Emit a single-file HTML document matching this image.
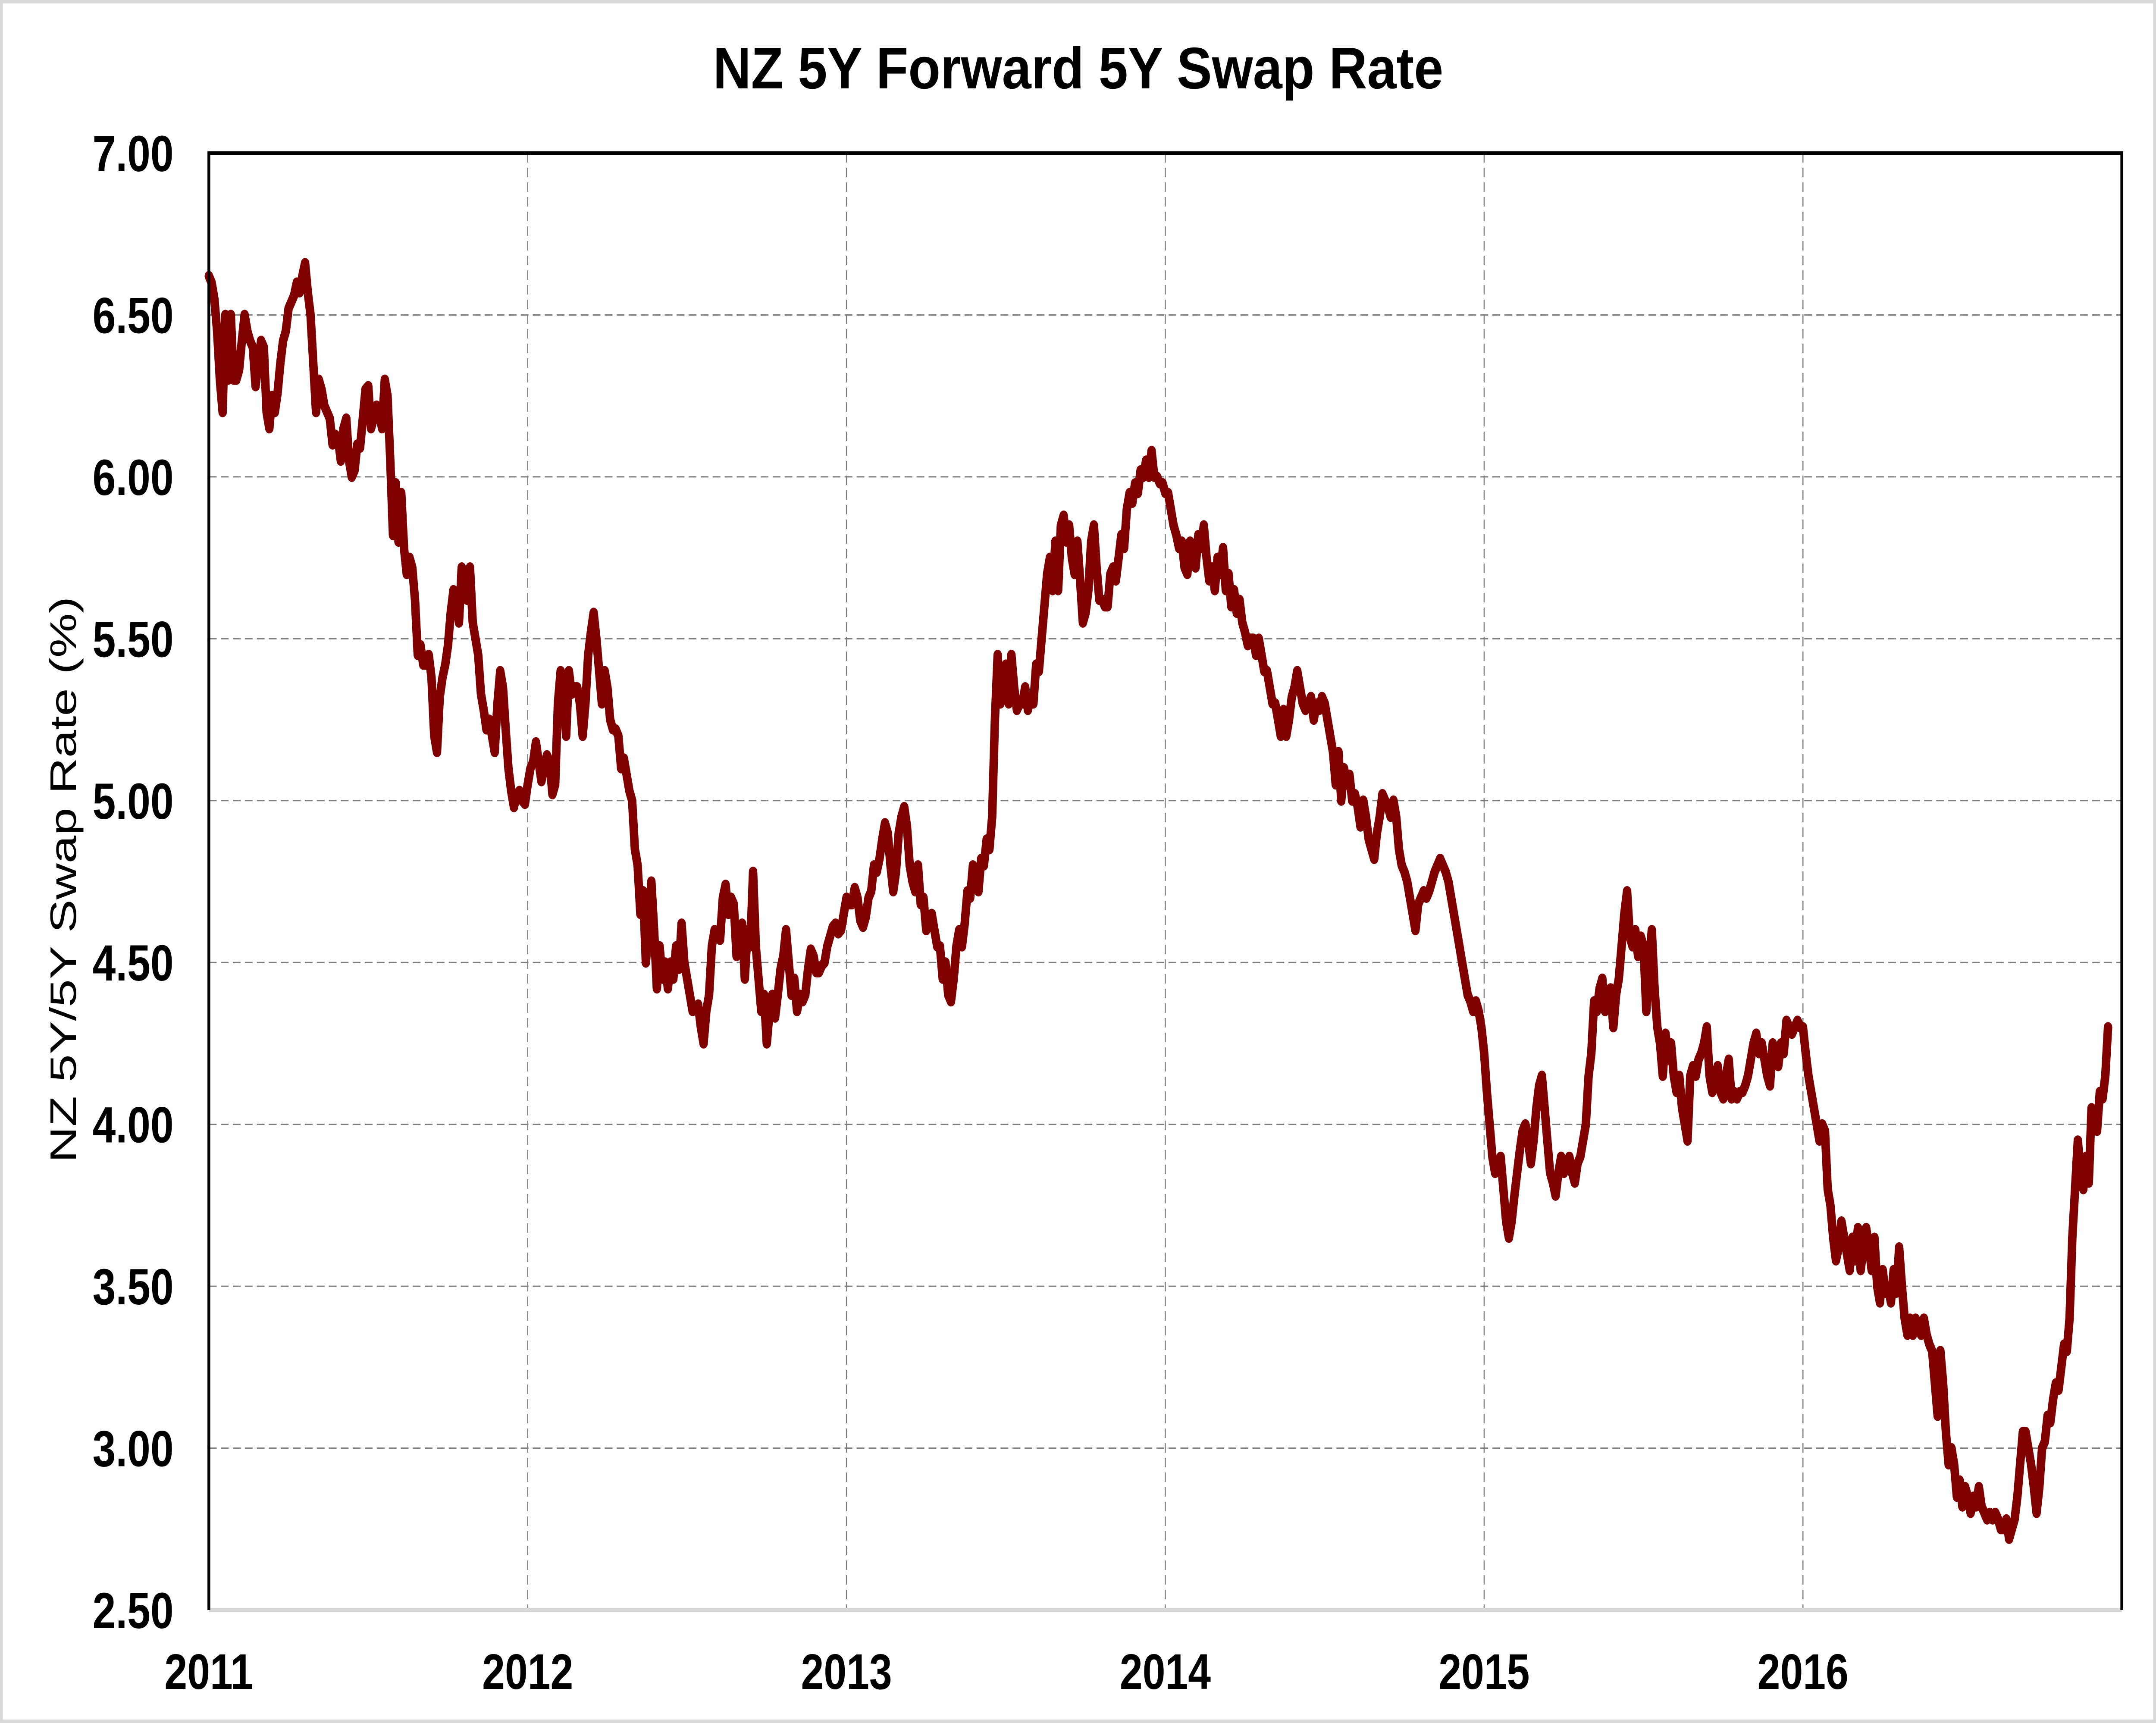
<!DOCTYPE html>
<html>
<head>
<meta charset="utf-8">
<style>
html,body{margin:0;padding:0;background:#fff;overflow:hidden;width:100%;height:100%;}
svg{display:block;width:100vw;height:100vh;}
text{font-family:"Liberation Sans",Arial,sans-serif;}
</style>
</head>
<body>
<svg id="chart" viewBox="0 0 6111 3996" preserveAspectRatio="none" xmlns="http://www.w3.org/2000/svg">
  <rect x="4" y="4" width="6103" height="3988" fill="#fff" stroke="#d9d9d9" stroke-width="8"/>
  <text x="3056" y="205" text-anchor="middle" font-size="136" font-weight="bold" textLength="2070" lengthAdjust="spacingAndGlyphs">NZ 5Y Forward 5Y Swap Rate</text>
  <text transform="translate(215,2040) rotate(-90)" text-anchor="middle" font-size="104" textLength="1313" lengthAdjust="spacingAndGlyphs">NZ 5Y/5Y Swap Rate (%)</text>
  <g id="grid"></g>
  <g id="yticks"></g>
  <g id="xticks"></g>
  <g id="series"></g>
  <g id="frame"></g>
</svg>
<script>
// ---- chart data ----
const yTickValues = [2.5, 3.0, 3.5, 4.0, 4.5, 5.0, 5.5, 6.0, 6.5, 7.0];
const yTickLabels = ["2.50","3.00","3.50","4.00","4.50","5.00","5.50","6.00","6.50","7.00"];
const xTickYears = [2011, 2012, 2013, 2014, 2015, 2016];
const xTickLabels = ["2011","2012","2013","2014","2015","2016"];
const startYear = 2011;
const obsPerYear = 116;
const rateValues = [
6.62,6.60,6.55,6.45,6.30,6.20,6.50,6.30,6.50,6.30,6.30,6.33,6.42,6.50,6.45,6.42,6.40,6.28,6.35,6.42,6.40,6.20,6.15,6.25,6.20,6.26,6.35,6.42,6.45,6.52,6.54,6.56,6.60,6.57,6.62,6.66,6.57,6.50,6.35,6.20,6.30,6.27,6.22,6.20,6.18,6.10,6.13,6.12,6.05,6.15,6.18,6.05,6.00,6.02,6.10,6.09,6.18,6.27,6.28,6.15,6.18,6.22,6.20,6.15,6.30,6.25,
6.05,5.82,5.98,5.80,5.95,5.78,5.70,5.75,5.72,5.62,5.45,5.48,5.42,5.42,5.45,5.38,5.20,5.15,5.32,5.38,5.42,5.48,5.58,5.65,5.62,5.55,5.72,5.65,5.62,5.72,5.55,5.50,5.45,5.33,5.28,5.22,5.25,5.20,5.15,5.30,5.40,5.35,5.22,5.10,5.03,4.98,5.02,5.03,5.00,4.99,5.05,5.10,5.12,5.18,5.12,5.06,5.10,5.14,5.12,5.02,5.05,5.30,5.40,5.35,5.20,5.40,5.33,5.35,5.35,5.30,5.20,5.30,5.45,5.52,5.58,5.50,5.40,5.30,5.40,5.35,5.25,5.22,5.22,5.20,5.10,5.13,5.08,5.03,5.00,4.85,4.80,4.65,
4.72,4.50,4.60,4.75,4.60,4.42,4.55,4.45,4.50,4.42,4.50,4.45,4.55,4.48,4.62,4.50,4.45,4.40,4.35,4.36,4.37,4.30,4.25,4.35,4.40,4.55,4.60,4.58,4.57,4.70,4.74,4.65,4.70,4.68,4.52,4.55,4.62,4.45,4.60,4.55,4.78,4.55,4.45,4.35,4.40,4.25,4.35,4.40,4.33,4.40,4.48,4.52,4.60,4.50,4.40,4.45,4.35,4.40,4.38,4.40,4.48,4.54,4.52,4.47,4.47,4.49,4.50,4.55,4.58,4.61,4.62,4.59,4.60,4.65,4.70,4.68,4.68,4.73,4.70,4.63,4.61,4.64,4.70,4.72,4.80,4.78,4.82,4.88,4.93,4.90,4.80,4.72,4.78,4.90,4.95,4.98,4.92,4.80,
4.75,4.72,4.80,4.68,4.70,4.60,4.62,4.65,4.60,4.55,4.55,4.45,4.50,4.40,4.38,4.45,4.55,4.60,4.55,4.62,4.72,4.70,4.80,4.75,4.72,4.82,4.80,4.88,4.85,4.95,5.25,5.45,5.30,5.35,5.42,5.30,5.45,5.35,5.28,5.30,5.30,5.35,5.28,5.32,5.30,5.42,5.40,5.50,5.60,5.70,5.75,5.65,5.80,5.65,5.85,5.88,5.80,5.85,5.75,5.70,5.80,5.68,5.55,5.58,5.65,5.80,5.85,5.72,5.62,5.62,5.60,5.60,5.70,5.72,5.68,5.75,5.82,5.78,5.90,5.95,5.92,5.98,5.95,6.02,6.00,6.05,6.00,6.08,6.00,6.00,5.98,5.98,5.95,5.95,5.90,5.85,5.82,5.78,5.80,5.72,5.70,5.80,5.75,5.72,5.82,5.78,5.85,5.75,5.68,5.72,5.65,5.75,5.70,5.78,5.65,5.70,5.60,5.65,5.58,5.62,5.55,5.52,5.48,5.50,5.50,5.45,5.50,5.45,5.40,5.40,5.35,5.30,5.30,5.25,5.20,5.28,5.20,5.25,5.32,5.35,5.40,5.35,5.30,5.28,5.30,5.32,5.25,5.30,5.28,5.32,5.30,5.25,5.20,5.15,5.05,5.15,5.00,5.10,5.05,5.08,5.00,5.02,4.98,4.92,5.00,4.95,4.88,4.85,4.82,4.90,4.95,5.02,5.00,4.98,4.95,5.00,4.95,4.85,4.80,4.78,4.75,4.70,4.65,4.60,4.68,4.70,4.72,4.70,4.72,4.75,4.78,4.80,4.82,4.80,4.78,4.75,4.70,4.65,4.60,4.55,4.50,4.45,4.40,4.38,4.35,4.38,4.35,4.30,4.22,4.10,4.00,3.90,3.85,3.88,3.90,3.80,3.70,3.65,3.70,3.78,3.85,3.92,3.98,4.00,3.95,3.88,3.95,4.05,4.12,4.15,4.05,3.95,3.85,3.82,3.78,3.85,3.90,3.85,3.88,3.90,3.85,3.82,3.88,3.90,3.95,4.00,4.15,4.22,4.38,4.35,4.42,4.45,4.35,4.40,4.42,4.30,4.40,4.45,4.55,4.65,4.72,4.58,4.55,4.60,4.52,4.58,4.55,4.35,4.50,4.60,4.42,4.30,4.25,4.15,4.28,4.20,4.25,4.15,4.10,4.15,4.05,4.00,3.95,4.15,4.18,4.15,4.20,4.22,4.25,4.30,4.15,4.10,4.15,4.18,4.10,4.08,4.15,4.20,4.08,4.10,4.08,4.10,4.10,4.12,4.15,4.20,4.25,4.28,4.22,4.25,4.20,4.15,4.12,4.25,4.22,4.18,4.25,4.22,4.32,4.30,4.28,4.30,4.32,4.30,4.30,4.22,4.15,4.10,4.05,4.00,3.95,4.00,3.98,3.80,3.75,3.65,3.58,3.62,3.70,3.65,3.60,3.55,3.65,3.58,3.68,3.55,3.62,3.68,3.62,3.55,3.65,3.50,3.45,3.55,3.48,3.50,3.45,3.55,3.48,3.62,3.50,3.40,3.35,3.40,3.35,3.40,3.38,3.35,3.40,3.35,3.32,3.30,3.20,3.10,3.30,3.20,3.05,2.95,3.00,2.95,2.85,2.90,2.82,2.88,2.85,2.80,2.85,2.82,2.88,2.82,2.80,2.78,2.80,2.78,2.80,2.78,2.75,2.75,2.78,2.72,2.75,2.78,2.85,2.95,3.05,3.05,3.00,2.95,2.88,2.80,2.88,3.00,3.02,3.10,3.08,3.15,3.20,3.18,3.25,3.32,3.30,3.40,3.65,3.80,3.95,3.85,3.80,3.90,3.82,4.05,4.00,3.98,4.10,4.08,4.15,4.30
];

// ---- layout ----
const NS = "http://www.w3.org/2000/svg";
const plot = {left: 592, right: 6014, top: 355, bottom: 3734};
const xMin = 2011, xMax = 2017, yMin = 2.5, yMax = 7.0;
function xScale(v){ return plot.left + (v - xMin) / (xMax - xMin) * (plot.right - plot.left); }
function yScale(v){ return plot.bottom - (v - yMin) / (yMax - yMin) * (plot.bottom - plot.top); }
function mk(tag, attrs, parent){
  const e = document.createElementNS(NS, tag);
  for (const k in attrs) e.setAttribute(k, attrs[k]);
  parent.appendChild(e);
  return e;
}
const grid = document.getElementById('grid');
const yt = document.getElementById('yticks');
const xt = document.getElementById('xticks');
const series = document.getElementById('series');
const frame = document.getElementById('frame');

yTickValues.forEach((v, i) => {
  const y = yScale(v);
  if (v > yMin && v < yMax) {
    const g = mk('line', {x1: plot.left, x2: plot.right, y1: y, y2: y, stroke: '#7f7f7f', 'stroke-width': 3, 'stroke-dasharray': '22 12'}, grid);
    
    
  }
  const t = mk('text', {x: 492, y: y + 42, 'text-anchor': 'end', 'font-size': 118, 'font-weight': 'bold'}, yt);
  t.textContent = yTickLabels[i];
  
  
});

xTickYears.forEach((v, i) => {
  const x = xScale(v);
  if (v > xMin) {
    const g = mk('line', {x1: x, x2: x, y1: plot.top, y2: plot.bottom, stroke: '#7f7f7f', 'stroke-width': 3, 'stroke-dasharray': '22 12'}, grid);
    
    
  }
  const t = mk('text', {x: x, y: 3917, 'text-anchor': 'middle', 'font-size': 116, 'font-weight': 'bold'}, xt);
  t.textContent = xTickLabels[i];
  
  
});

const pts = rateValues.map((v, i) => xScale(startYear + i / obsPerYear).toFixed(1) + ',' + yScale(v).toFixed(1));
const line = mk('polyline', {points: pts.join(' '), fill: 'none', stroke: '#800000', 'stroke-width': 24, 'stroke-linejoin': 'round', 'stroke-linecap': 'round'}, series);



const fb = mk('line', {x1: plot.left, x2: plot.right, y1: plot.bottom, y2: plot.bottom, stroke: '#d9d9d9', 'stroke-width': 10}, frame);


const fp = mk('path', {d: `M${plot.left},${plot.bottom} L${plot.left},${plot.top} L${plot.right},${plot.top} L${plot.right},${plot.bottom}`, fill: 'none', stroke: '#000', 'stroke-width': 8}, frame);


</script>
</body>
</html>
